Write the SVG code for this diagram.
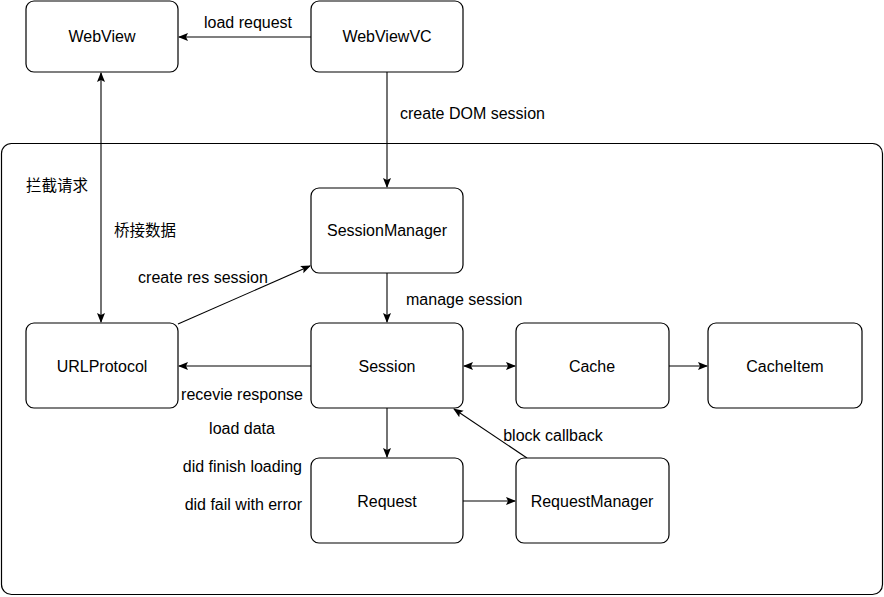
<svg xmlns="http://www.w3.org/2000/svg" width="884" height="597" viewBox="0 0 884 597">
<style>
.box{fill:#fff;stroke:#000;stroke-width:1.2}
.t{font-family:"Liberation Sans",Arial,sans-serif;font-size:16px;fill:#000}
.cjk{font-family:"Liberation Sans","Noto Sans CJK SC",sans-serif;font-size:15.5px}
.c{text-anchor:middle}
.e{text-anchor:end}
.ln{fill:none;stroke:#000;stroke-width:1.1}
</style>
<defs>
<marker id="ah" markerWidth="10" markerHeight="10" refX="9" refY="5" orient="auto" markerUnits="userSpaceOnUse">
<path d="M0,1 L10,5 L0,9 L2,5 Z" fill="#000"/>
</marker>
<marker id="as" markerWidth="10" markerHeight="10" refX="1" refY="5" orient="auto" markerUnits="userSpaceOnUse">
<path d="M10,1 L0,5 L10,9 L8,5 Z" fill="#000"/>
</marker>
</defs>
<rect width="884" height="597" fill="#fff"/>
<g id="container"><rect x="1.5" y="143.5" width="881" height="451" rx="10" fill="none" stroke="#000" stroke-width="1.2"/></g>
<g id="connectors">
<line class="ln" x1="311" y1="37" x2="179" y2="37" marker-end="url(#ah)"/>
<line class="ln" x1="387" y1="72" x2="387" y2="187" marker-end="url(#ah)"/>
<line class="ln" x1="101" y1="73" x2="101" y2="322" marker-start="url(#as)" marker-end="url(#ah)"/>
<line class="ln" x1="178" y1="324" x2="310" y2="266" marker-end="url(#ah)"/>
<line class="ln" x1="387" y1="273" x2="387" y2="322" marker-end="url(#ah)"/>
<line class="ln" x1="311" y1="366" x2="179" y2="366" marker-end="url(#ah)"/>
<line class="ln" x1="464" y1="366" x2="515" y2="366" marker-start="url(#as)" marker-end="url(#ah)"/>
<line class="ln" x1="669" y1="366" x2="707" y2="366" marker-end="url(#ah)"/>
<line class="ln" x1="387" y1="408" x2="387" y2="457" marker-end="url(#ah)"/>
<line class="ln" x1="463" y1="501" x2="515" y2="501" marker-end="url(#ah)"/>
<line class="ln" x1="527" y1="458" x2="454" y2="409" marker-end="url(#ah)"/>
<text class="t c" x="248" y="28">load request</text>
<text class="t" x="400" y="119">create DOM session</text>
<text class="t cjk" x="26" y="191">拦截请求</text>
<text class="t cjk" x="114" y="236">桥接数据</text>
<text class="t c" x="203" y="283">create res session</text>
<text class="t" x="406" y="305">manage session</text>
<text class="t c" x="242" y="400">recevie response</text>
<text class="t c" x="242" y="434">load data</text>
<text class="t e" x="302" y="472">did finish loading</text>
<text class="t e" x="302" y="510">did fail with error</text>
<text class="t c" x="553" y="441">block callback</text>
</g>
<g id="WebView"><rect class="box" x="26" y="1" width="152" height="71" rx="8"/><text class="t c" x="102" y="42">WebView</text></g>
<g id="WebViewVC"><rect class="box" x="311" y="1" width="152" height="71" rx="8"/><text class="t c" x="387" y="42">WebViewVC</text></g>
<g id="SessionManager"><rect class="box" x="311" y="188" width="152" height="85" rx="8"/><text class="t c" x="387" y="236">SessionManager</text></g>
<g id="URLProtocol"><rect class="box" x="26" y="323" width="152" height="85" rx="8"/><text class="t c" x="102" y="372">URLProtocol</text></g>
<g id="Session"><rect class="box" x="311" y="323" width="152" height="85" rx="8"/><text class="t c" x="387" y="372">Session</text></g>
<g id="Cache"><rect class="box" x="516" y="323" width="153" height="85" rx="8"/><text class="t c" x="592" y="372">Cache</text></g>
<g id="CacheItem"><rect class="box" x="708" y="323" width="154" height="85" rx="8"/><text class="t c" x="785" y="372">CacheItem</text></g>
<g id="Request"><rect class="box" x="311" y="458" width="152" height="85" rx="8"/><text class="t c" x="387" y="507">Request</text></g>
<g id="RequestManager"><rect class="box" x="516" y="458" width="153" height="85" rx="8"/><text class="t c" x="592" y="507">RequestManager</text></g>
</svg>
